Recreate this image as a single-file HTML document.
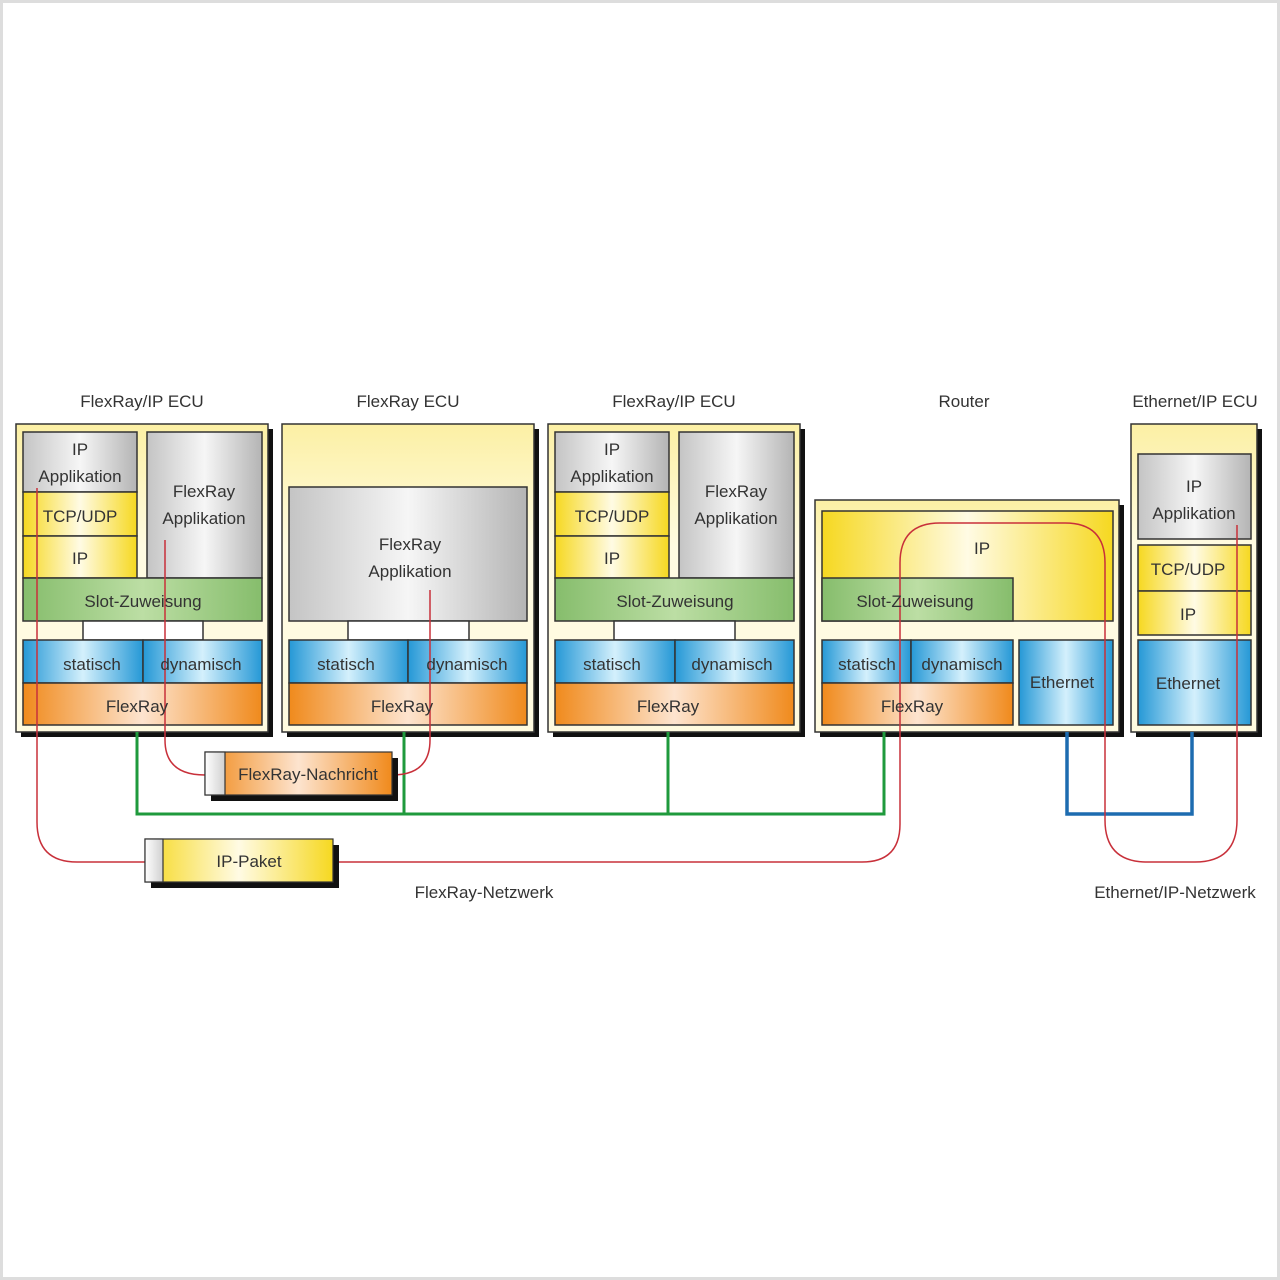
<!DOCTYPE html>
<html><head><meta charset="utf-8"><style>
html,body{margin:0;padding:0;background:#fff}
svg{display:block}
text{font-family:"Liberation Sans",sans-serif;font-size:17px;fill:#333;text-anchor:middle}
</style></head><body>
<svg width="1280" height="1280" viewBox="0 0 1280 1280" xmlns="http://www.w3.org/2000/svg">
<defs>
<linearGradient id="ecu" x1="0" y1="0" x2="0" y2="1"><stop offset="0" stop-color="#fcf0a4"/><stop offset="0.4" stop-color="#fffbe2"/><stop offset="1" stop-color="#fffbe0"/></linearGradient>
<linearGradient id="gray" x1="0" y1="0" x2="1" y2="0"><stop offset="0" stop-color="#c4c4c4"/><stop offset="0.5" stop-color="#f6f6f6"/><stop offset="1" stop-color="#b4b4b4"/></linearGradient>
<linearGradient id="yel" x1="0" y1="0" x2="1" y2="0"><stop offset="0" stop-color="#f6d820"/><stop offset="0.5" stop-color="#fffbe4"/><stop offset="1" stop-color="#f6d820"/></linearGradient>
<linearGradient id="blue" x1="0" y1="0" x2="1" y2="0"><stop offset="0" stop-color="#2598d6"/><stop offset="0.5" stop-color="#d4f0fc"/><stop offset="1" stop-color="#2598d6"/></linearGradient>
<linearGradient id="or" x1="0" y1="0" x2="1" y2="0"><stop offset="0" stop-color="#f08a1c"/><stop offset="0.5" stop-color="#fde4cf"/><stop offset="1" stop-color="#f08a1c"/></linearGradient>
<linearGradient id="grn" x1="0" y1="0" x2="1" y2="0"><stop offset="0" stop-color="#86bd6c"/><stop offset="0.5" stop-color="#bcdea4"/><stop offset="1" stop-color="#86bd6c"/></linearGradient>
<linearGradient id="cap" x1="0" y1="0" x2="1" y2="0"><stop offset="0" stop-color="#ffffff"/><stop offset="1" stop-color="#d0d0d0"/></linearGradient>
</defs>
<rect x="1.5" y="1.5" width="1277" height="1277" fill="#fff" stroke="#ddd" stroke-width="3"/>

<g stroke="#333" stroke-width="1.5">
<!-- ECU1 -->
<rect x="21" y="429" width="252" height="308" fill="#111" stroke="none"/>
<rect x="16" y="424" width="252" height="308" fill="url(#ecu)"/>
<rect x="23" y="432" width="114" height="60" fill="url(#gray)"/>
<rect x="23" y="492" width="114" height="44" fill="url(#yel)"/>
<rect x="23" y="536" width="114" height="42" fill="url(#yel)"/>
<rect x="147" y="432" width="115" height="146" fill="url(#gray)"/>
<rect x="23" y="578" width="239" height="43" fill="url(#grn)"/>
<rect x="83" y="621" width="120" height="19" fill="#fff"/>
<rect x="23" y="640" width="120" height="43" fill="url(#blue)"/>
<rect x="143" y="640" width="119" height="43" fill="url(#blue)"/>
<rect x="23" y="683" width="239" height="42" fill="url(#or)"/>
<!-- ECU2 -->
<rect x="287" y="429" width="252" height="308" fill="#111" stroke="none"/>
<rect x="282" y="424" width="252" height="308" fill="url(#ecu)"/>
<rect x="289" y="487" width="238" height="134" fill="url(#gray)"/>
<rect x="348" y="621" width="121" height="19" fill="#fff"/>
<rect x="289" y="640" width="119" height="43" fill="url(#blue)"/>
<rect x="408" y="640" width="119" height="43" fill="url(#blue)"/>
<rect x="289" y="683" width="238" height="42" fill="url(#or)"/>
<!-- ECU3 -->
<rect x="553" y="429" width="252" height="308" fill="#111" stroke="none"/>
<rect x="548" y="424" width="252" height="308" fill="url(#ecu)"/>
<rect x="555" y="432" width="114" height="60" fill="url(#gray)"/>
<rect x="555" y="492" width="114" height="44" fill="url(#yel)"/>
<rect x="555" y="536" width="114" height="42" fill="url(#yel)"/>
<rect x="679" y="432" width="115" height="146" fill="url(#gray)"/>
<rect x="555" y="578" width="239" height="43" fill="url(#grn)"/>
<rect x="614" y="621" width="121" height="19" fill="#fff"/>
<rect x="555" y="640" width="120" height="43" fill="url(#blue)"/>
<rect x="675" y="640" width="119" height="43" fill="url(#blue)"/>
<rect x="555" y="683" width="239" height="42" fill="url(#or)"/>
<!-- Router -->
<rect x="820" y="505" width="304" height="232" fill="#111" stroke="none"/>
<rect x="815" y="500" width="304" height="232" fill="url(#ecu)"/>
<rect x="822" y="511" width="291" height="110" fill="url(#yel)"/>
<rect x="822" y="578" width="191" height="43" fill="url(#grn)"/>
<rect x="822" y="640" width="89" height="43" fill="url(#blue)"/>
<rect x="911" y="640" width="102" height="43" fill="url(#blue)"/>
<rect x="822" y="683" width="191" height="42" fill="url(#or)"/>
<rect x="1019" y="640" width="94" height="85" fill="url(#blue)"/>
<!-- Ethernet ECU -->
<rect x="1136" y="429" width="126" height="308" fill="#111" stroke="none"/>
<rect x="1131" y="424" width="126" height="308" fill="url(#ecu)"/>
<rect x="1138" y="454" width="113" height="85" fill="url(#gray)"/>
<rect x="1138" y="545" width="113" height="46" fill="url(#yel)"/>
<rect x="1138" y="591" width="113" height="44" fill="url(#yel)"/>
<rect x="1138" y="640" width="113" height="85" fill="url(#blue)"/>
</g>

<!-- networks -->
<path d="M137 732 V814 H884 V732 M404 732 V814 M668 732 V814" fill="none" stroke="#1f9a3c" stroke-width="3"/>
<path d="M1067 732 V814 H1192 V732" fill="none" stroke="#1d6cb0" stroke-width="3.5"/>

<!-- red paths -->
<g fill="none" stroke="#c8303a" stroke-width="1.5">
<path d="M37 488 V822 Q37 862 77 862 H145"/>
<path d="M333 862 H862 Q900 862 900 824 V563 Q900 523 940 523 H1065 Q1105 523 1105 563 V820 Q1105 862 1147 862 H1195 Q1237 862 1237 820 V525"/>
<path d="M165 540 V740 Q165 775 205 775"/>
<path d="M392 775 Q430 775 430 740 V590"/>
</g>

<!-- messages -->
<g stroke="#333" stroke-width="1.2">
<rect x="211" y="758" width="187" height="43" fill="#111" stroke="none"/>
<rect x="205" y="752" width="187" height="43" fill="url(#or)"/>
<rect x="205" y="752" width="20" height="43" fill="url(#cap)"/>
<rect x="151" y="845" width="188" height="43" fill="#111" stroke="none"/>
<rect x="145" y="839" width="188" height="43" fill="url(#yel)"/>
<rect x="145" y="839" width="18" height="43" fill="url(#cap)"/>
</g>

<!-- labels -->
<text x="142" y="407">FlexRay/IP ECU</text>
<text x="408" y="407">FlexRay ECU</text>
<text x="674" y="407">FlexRay/IP ECU</text>
<text x="964" y="407">Router</text>
<text x="1195" y="407">Ethernet/IP ECU</text>

<text x="80" y="455">IP</text><text x="80" y="482">Applikation</text>
<text x="80" y="522">TCP/UDP</text><text x="80" y="564">IP</text>
<text x="204" y="497">FlexRay</text><text x="204" y="524">Applikation</text>
<text x="143" y="607">Slot-Zuweisung</text>
<text x="92" y="670">statisch</text><text x="201" y="670">dynamisch</text>
<text x="137" y="712">FlexRay</text>

<text x="410" y="550">FlexRay</text><text x="410" y="577">Applikation</text>
<text x="346" y="670">statisch</text><text x="467" y="670">dynamisch</text>
<text x="402" y="712">FlexRay</text>

<text x="612" y="455">IP</text><text x="612" y="482">Applikation</text>
<text x="612" y="522">TCP/UDP</text><text x="612" y="564">IP</text>
<text x="736" y="497">FlexRay</text><text x="736" y="524">Applikation</text>
<text x="675" y="607">Slot-Zuweisung</text>
<text x="612" y="670">statisch</text><text x="732" y="670">dynamisch</text>
<text x="668" y="712">FlexRay</text>

<text x="982" y="554">IP</text>
<text x="915" y="607">Slot-Zuweisung</text>
<text x="867" y="670">statisch</text><text x="962" y="670">dynamisch</text>
<text x="912" y="712">FlexRay</text>
<text x="1062" y="688">Ethernet</text>

<text x="1194" y="492">IP</text><text x="1194" y="519">Applikation</text>
<text x="1188" y="575">TCP/UDP</text><text x="1188" y="620">IP</text>
<text x="1188" y="689">Ethernet</text>

<text x="308" y="780">FlexRay-Nachricht</text>
<text x="249" y="867">IP-Paket</text>
<text x="484" y="898">FlexRay-Netzwerk</text>
<text x="1175" y="898">Ethernet/IP-Netzwerk</text>
</svg>
</body></html>
